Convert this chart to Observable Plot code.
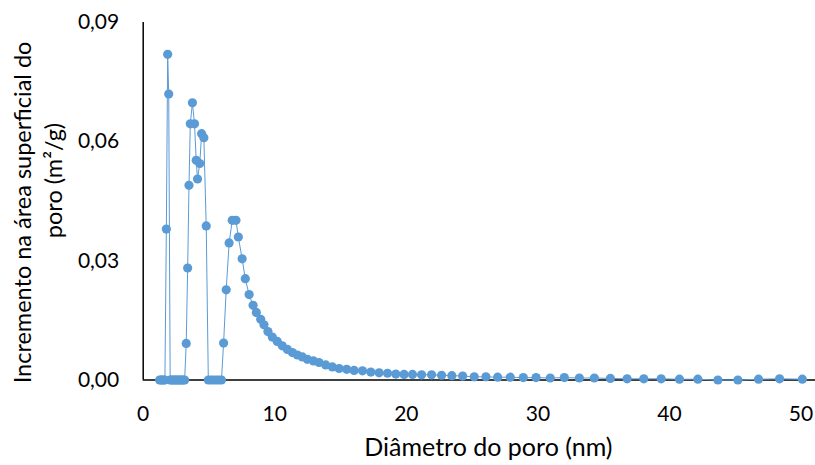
<!DOCTYPE html>
<html>
<head>
<meta charset="utf-8">
<script src="https://cdn.jsdelivr.net/npm/d3@7"></script>
<script src="https://cdn.jsdelivr.net/npm/@observablehq/plot@0.6"></script>
<style>
  html, body { margin: 0; padding: 0; background: #fff; }
</style>
</head>
<body>
<div id="chart"></div>
<script>
const diameters = [
  1.25, 1.35, 1.45, 1.55, 1.65, 1.76, 1.86, 1.94,
  2.05, 2.15, 2.25, 2.35, 2.45, 2.55, 2.65, 2.75, 2.85, 2.95, 3.05, 3.15,
  3.27, 3.38, 3.48, 3.58, 3.74, 3.90, 4.03, 4.13, 4.30, 4.44, 4.61, 4.79,
  4.95, 5.15, 5.35, 5.55, 5.75, 5.95,
  6.11, 6.31, 6.53, 6.77, 7.05, 7.23, 7.52, 7.76, 8.05, 8.35, 8.60,
  8.93, 9.18, 9.48, 9.81, 10.19, 10.57, 10.96, 11.34, 11.72, 12.10,
  12.48, 12.94, 13.36, 13.87, 14.38, 14.89, 15.47, 16.03, 16.67, 17.30,
  17.93, 18.57, 19.20, 19.83, 20.47, 21.16, 21.92, 22.68, 23.46, 24.28,
  25.16, 26.05, 26.94, 27.90, 28.89, 29.86, 30.94, 32.01, 33.15, 34.29,
  35.51, 36.78, 38.05, 39.37, 40.76, 42.16, 43.68, 45.20, 46.77, 48.37,
  50.10
];
const increments = [
  0, 0, 0, 0, 0, 0.038, 0.082, 0.072,
  0, 0, 0, 0, 0, 0, 0, 0, 0, 0, 0, 0,
  0.0092, 0.0282, 0.049, 0.0645, 0.0698, 0.0645, 0.0553, 0.0506, 0.0545, 0.062, 0.061, 0.0388,
  0, 0, 0, 0, 0, 0,
  0.0093, 0.0227, 0.0345, 0.0402, 0.0402, 0.0360, 0.0305, 0.0255, 0.0215, 0.0188, 0.0170,
  0.0153, 0.0139, 0.0122, 0.0108, 0.0097, 0.0086, 0.0077, 0.0069, 0.0063, 0.0058,
  0.0052, 0.0048, 0.0044, 0.0038, 0.0033, 0.0029, 0.0027, 0.0024, 0.0023, 0.0020,
  0.0018, 0.0017, 0.0015, 0.0014, 0.0014, 0.0013, 0.0013, 0.0012, 0.0011, 0.0010,
  0.0008, 0.0008, 0.0007, 0.0007, 0.0006, 0.0006, 0.0005, 0.0006, 0.0005, 0.0005,
  0.0004, 0.0003, 0.0003, 0.0003, 0.0002, 0.0002, 0.0000, 0.0000, 0.0002, 0.0003,
  0.0002
];
const xTicks = [0, 10, 20, 30, 40, 50];
const yTicks = [0, 0.03, 0.06, 0.09];
const xTitle = "Diâmetro do poro (nm)";
const yTitleLine1 = "Incremento na área superficial do";
const yTitleLine2 = "poro (m²/g)";

const data = diameters.map((d, i) => ({x: d, y: increments[i]}));
const blue = "#5B9BD5";
const font = "Lato, 'Open Sans', sans-serif";

const chart = Plot.plot({
  width: 815,
  height: 465,
  marginLeft: 142.7,
  marginRight: 0,
  marginTop: 22,
  marginBottom: 85.5,
  style: {fontFamily: font, fontSize: "21px", background: "#fff", color: "#000"},
  x: {domain: [0, 51.1]},
  y: {domain: [0, 0.09]},
  marks: [
    Plot.ruleY([0], {stroke: "#000", strokeWidth: 1.5}),
    Plot.ruleX([0], {stroke: "#000", strokeWidth: 1.5}),
    Plot.line(data, {x: "x", y: "y", stroke: blue, strokeWidth: 1}),
    Plot.dot(data, {x: "x", y: "y", r: 4.6, fill: blue, stroke: null}),
    Plot.axisX({ticks: xTicks, tickSize: 0, tickPadding: 26, fontSize: 21, label: null, fill: "#000"}),
    Plot.axisY({ticks: yTicks, tickSize: 0, tickPadding: 24, fontSize: 21, label: null, fill: "#000",
      tickFormat: d => d.toFixed(2).replace(".", ",")}),
    Plot.text([xTitle], {text: d => d, frameAnchor: "bottom", textAnchor: "middle", dx: 9, dy: 67.5, lineAnchor: "middle", fontSize: 25, fill: "#000"}),
    Plot.text([yTitleLine1], {text: d => d, frameAnchor: "left", textAnchor: "middle", rotate: -90, dx: -119.5, dy: 11.25, lineAnchor: "middle", fontSize: 23.5, fill: "#000"}),
    Plot.text([yTitleLine2], {text: d => d, frameAnchor: "left", textAnchor: "middle", rotate: -90, dx: -88.5, dy: -20.75, lineAnchor: "middle", fontSize: 23.5, fill: "#000"})
  ]
});
document.getElementById("chart").appendChild(chart);
</script>
</body>
</html>
